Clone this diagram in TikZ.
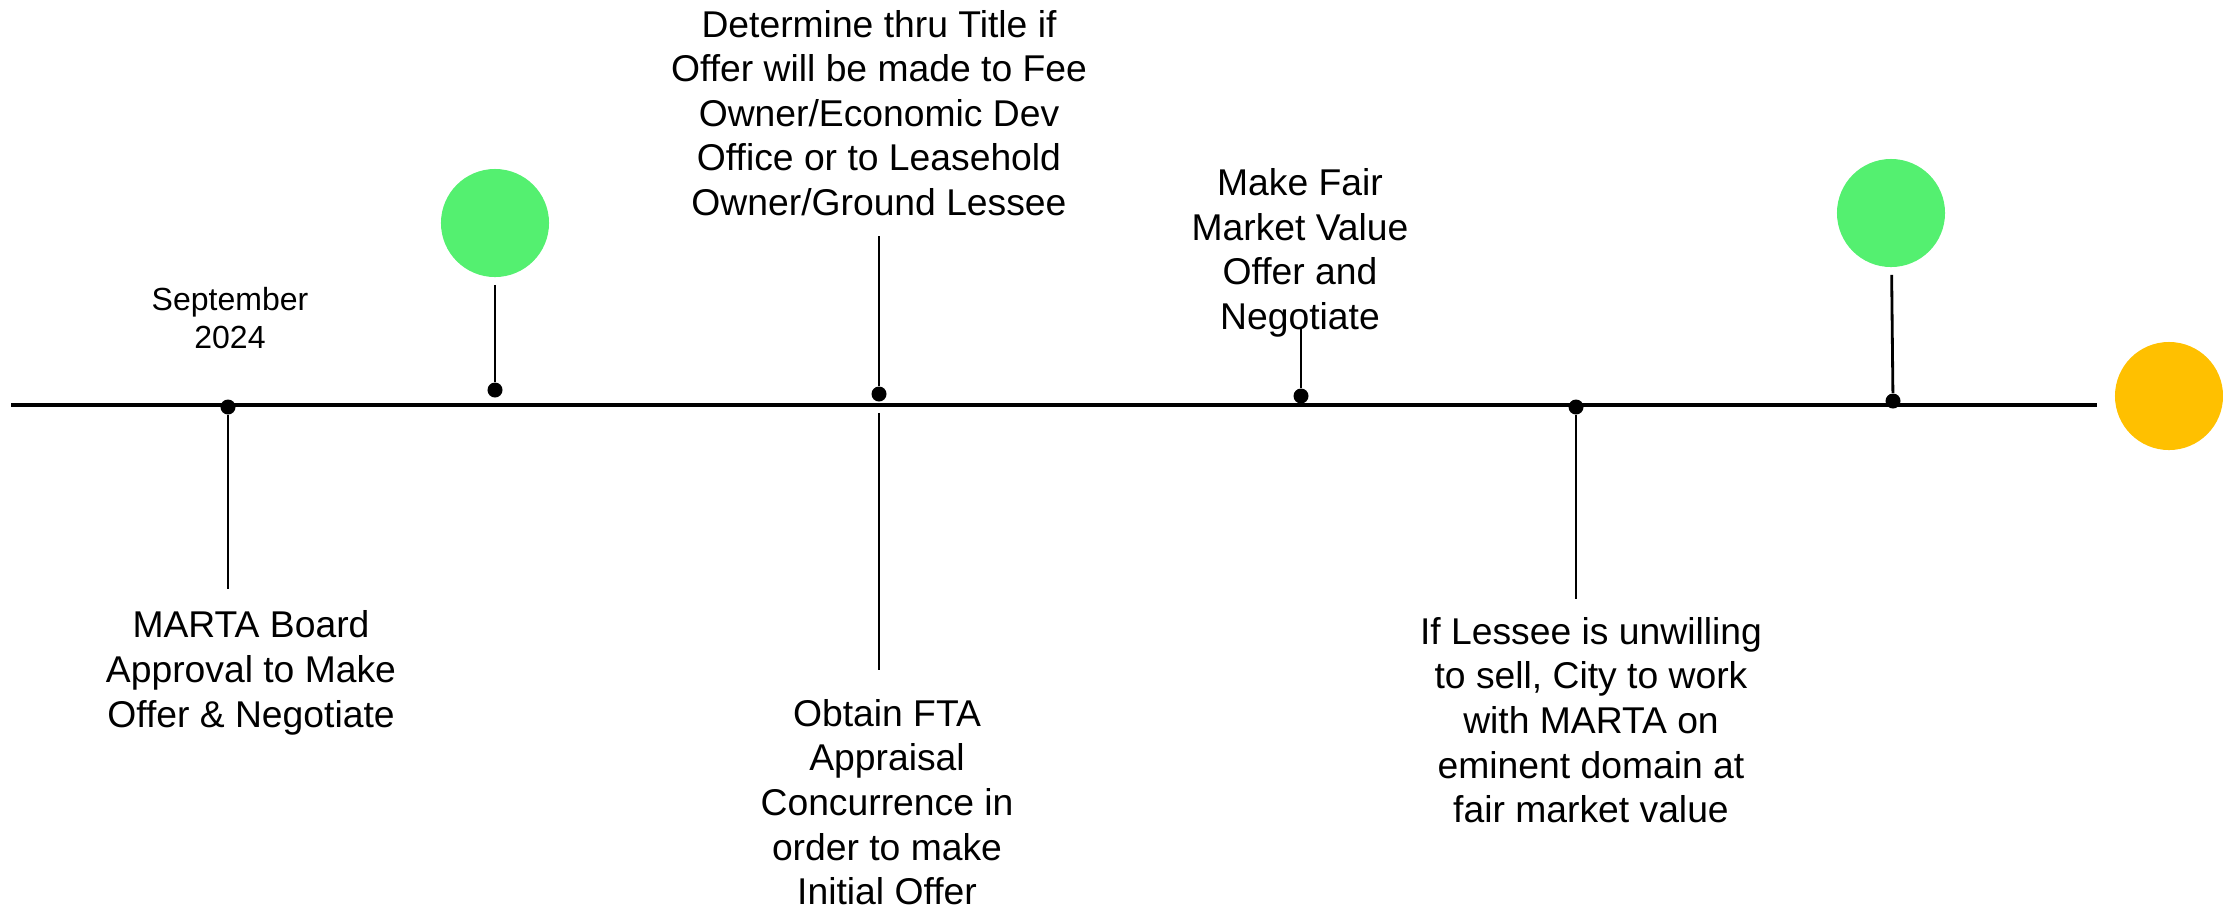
\documentclass[tikz,border=0pt]{standalone}
\usepackage{fontspec}
\setmainfont{Liberation Sans}
\definecolor{stepgreen}{RGB}{84,240,112}
\definecolor{stepgold}{RGB}{255,192,0}

\begin{document}
\begin{tikzpicture}[x=0.01cm, y=-0.01cm,
  event/.style={circle, fill=black, inner sep=0pt, minimum size=0.15cm},
  flag/.style={circle, fill=stepgreen, inner sep=0pt, minimum size=1.08cm},
  stem/.style={line width=0.8pt},
  caption/.style={align=center, inner sep=2pt, font=\fontsize{10.6}{12.7}\selectfont}]
\useasboundingbox (0,0) rectangle (2223,911);

% the time axis
\coordinate (start) at (11,405);
\coordinate (stop) at (2097,405);
\draw[line width=1pt] (start) -- (stop);

% events on the axis
\node[event] (sep) at (228,407) {};
\node[event] (g1) at (495,390) {};
\node[event] (title) at (879,394) {};
\node[event] (fmv) at (1301,396) {};
\node[event] (lessee) at (1576,407) {};
\node[event] (g2) at (1893,401) {};

% milestone markers
\node[flag] (m1) at (495,223) {};
\node[flag] (m2) at (1891,213) {};
\node[circle, fill=stepgold, inner sep=0pt, minimum size=1.08cm] (end) at (2169,396) {};

% labels
\node[align=center, font=\fontsize{9.1}{10.9}\selectfont] (date) at (230,318) {September\\2024};
\node[caption] (board) at (251,673) {MARTA Board\\Approval to Make\\Offer \& Negotiate};
\node[caption] (det) at (879,113) {Determine thru Title if\\Offer will be made to Fee\\Owner/Economic Dev\\Office or to Leasehold\\Owner/Ground Lessee};
\node[caption] (fta) at (887,802) {Obtain FTA\\Appraisal\\Concurrence in\\order to make\\Initial Offer};
\node[caption] (offer) at (1300,253) {Make Fair\\Market Value\\Offer and\\Negotiate};
\node[caption] (domain) at (1591,720) {If Lessee is unwilling\\to sell, City to work\\with MARTA on\\eminent domain at\\fair market value};

% stems
\draw[stem, shorten >=4pt] (sep) -- (sep |- board.north);
\draw[stem, shorten <=2pt] (m1) -- (g1);
\draw[stem, shorten >=3.5pt] (title) -- (title |- det.south);
\draw[line width=0.4pt, shorten <=3pt, shorten >=6pt] (title) -- (title |- fta.north);
\draw[stem, shorten >=-4.5pt] (fmv) -- (fmv |- offer.south);
\draw[stem, shorten >=3pt] (lessee) -- (lessee |- domain.north);
\draw[stem, shorten <=2pt] (m2) -- (g2);
\end{tikzpicture}
\end{document}
